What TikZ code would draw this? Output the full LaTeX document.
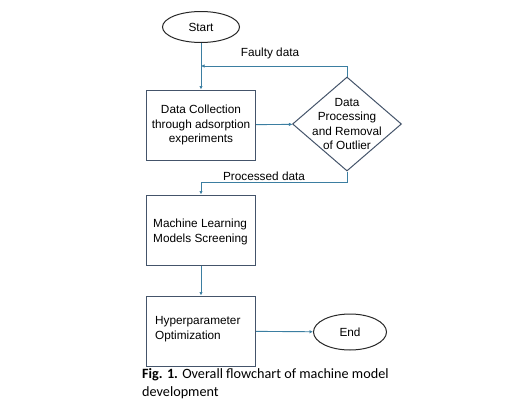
\documentclass[tikz,border=0pt]{standalone}
\usepackage{fontspec}
\setmainfont{Liberation Sans}
\newfontfamily\capfont{Carlito}
\usetikzlibrary{shapes.geometric,arrows.meta}
\definecolor{linkblue}{HTML}{3B7EA1}
\definecolor{boxedge}{HTML}{44546A}
\begin{document}
\begin{tikzpicture}[x=1pt, y=-1pt, font=\fontsize{11.8}{14.5}\selectfont]
        \tikzstyle{every node}=[inner sep=1pt]
        \tikzstyle{term}=[ellipse, draw=black!85, line width=1pt, minimum width=77pt, minimum height=31pt]
        \tikzstyle{stepbox}=[rectangle, draw=boxedge, line width=1pt, minimum width=109pt, minimum height=70pt, align=center]
        \tikzstyle{decide}=[diamond, draw=boxedge, line width=1pt, aspect=1.16, inner sep=-12pt, minimum width=109pt, minimum height=94pt, align=center]
        \tikzstyle{link}=[draw=linkblue, line width=0.9pt, -{Latex[length=3.5pt,width=3.5pt]}]
        \useasboundingbox (0,0) rectangle (514,415);
        \node [term] (start) at (201,27) {Start};
        \node [stepbox] (collect) at (201,125) {Data Collection\\through adsorption\\experiments};
        \node [decide] (process) at (347,124) {Data\\Processing\\and Removal\\of Outlier};
        \node [stepbox] (screen) at (201,230) {};
        \node [align=left, anchor=west] (screentxt) at (152,232) {Machine Learning\\Models Screening};
        \node [stepbox] (tune) at (201,331) {};
        \node [align=left, anchor=west] (tunetxt) at (154,329) {Hyperparameter\\Optimization};
        \node [term, minimum width=73pt, minimum height=36pt] (stop) at (350,332) {End};
        \coordinate (faulty) at (201,66);
        \coordinate (passed) at (201,182);
        \draw [link] (start) -- (collect);
        \draw [link] (process.north) |- (faulty);
        \draw [link] (collect) -- (process);
        \draw [link] (process.south) |- (passed) -- (screen.north);
        \draw [link] (screen) -- (tune);
        \draw [link] (tune) -- (stop);
        \node (faultylbl) at (270,53) {Faulty data};
        \node (passedlbl) at (264,176) {Processed data};
        \node [align=left, anchor=north west, font=\capfont\fontsize{14.2}{18.5}\selectfont] (caption) at (141,367) {\textbf{Fig. 1.} Overall flowchart of machine model\\development};
    \end{tikzpicture}
\end{document}
